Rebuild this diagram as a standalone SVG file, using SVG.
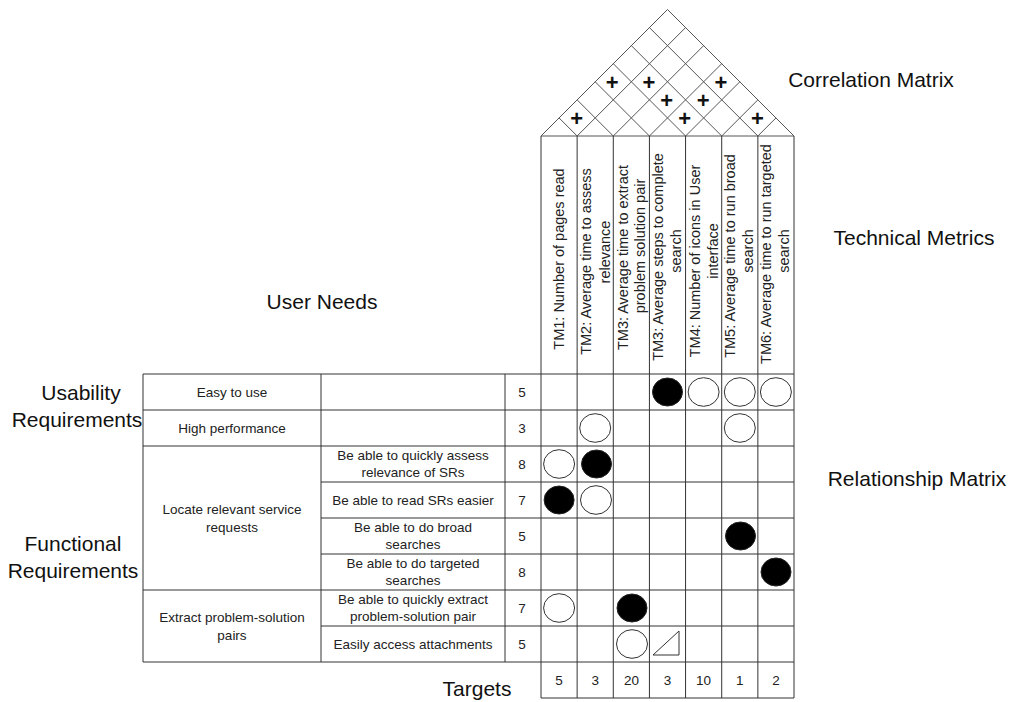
<svg xmlns="http://www.w3.org/2000/svg" width="1013" height="702" viewBox="0 0 1013 702">
<style>
  .ln { stroke: #333; stroke-width: 1; fill: none; }
  .rf { stroke: #555; stroke-width: 1; fill: none; }
  .big { font-family: "Liberation Sans", Arial, sans-serif; font-size: 21px; fill: #111; text-anchor: middle; }
  .cell { font-family: "Liberation Sans", Arial, sans-serif; font-size: 13.5px; fill: #222; text-anchor: middle; }
  .hd { font-family: "Liberation Sans", Arial, sans-serif; font-size: 14.5px; fill: #222; text-anchor: middle; }
  .plus { font-family: "Liberation Sans", Arial, sans-serif; font-size: 22px; font-weight: bold; fill: #111; text-anchor: middle; }
  .op { fill: #fff; stroke: #333; stroke-width: 1; }
  .fl { fill: #000; stroke: #222; stroke-width: 1; }
</style>
<rect width="1013" height="702" fill="#fff"/>

<g id="roof">
  <polyline class="rf" points="541,136 667.5,9.5 794,136"/>
  <line class="rf" x1="541" y1="136" x2="794" y2="136"/>
  <path class="rf" d="M577.14,136 L559.07,117.93 M577.14,136 L685.57,27.57
    M613.29,136 L577.14,99.86 M613.29,136 L703.64,45.64
    M649.43,136 L595.21,81.79 M649.43,136 L721.71,63.71
    M685.57,136 L613.29,63.71 M685.57,136 L739.79,81.79
    M721.71,136 L631.36,45.64 M721.71,136 L757.86,99.86
    M757.86,136 L649.43,27.57 M757.86,136 L775.93,117.93"/>
  <text class="plus" x="576.6" y="125.6">+</text>
  <text class="plus" x="612.3" y="89.5">+</text>
  <text class="plus" x="648.9" y="89.5">+</text>
  <text class="plus" x="666.8" y="107.6">+</text>
  <text class="plus" x="684.6" y="125.6">+</text>
  <text class="plus" x="703.1" y="107.6">+</text>
  <text class="plus" x="721" y="89.5">+</text>
  <text class="plus" x="757.4" y="125.6">+</text>
</g>

<g id="grid">
  <path class="ln" d="M143,374 H794 M143,410 H794 M143,446 H794 M321,482 H794 M321,518 H794 M321,554 H794 M143,590 H794 M321,626 H794 M143,662 H794 M541,698 H794
    M143,374 V662 M321,374 V662 M505,374 V662
    M541,136 V698 M577.14,136 V698 M613.29,136 V698 M649.43,136 V698 M685.57,136 V698 M721.71,136 V698 M757.86,136 V698 M794,136 V698"/>
</g>

<g id="technical-metrics">
  <text class="hd" transform="translate(564,259) rotate(-90)">TM1: Number of pages read</text>
  <text class="hd" transform="translate(590.5,261.5) rotate(-90)">TM2: Average time to assess</text>
  <text class="hd" transform="translate(609.5,252) rotate(-90)">relevance</text>
  <text class="hd" transform="translate(627.5,257.5) rotate(-90)">TM3: Average time to extract</text>
  <text class="hd" transform="translate(645,246) rotate(-90)">problem solution pair</text>
  <text class="hd" transform="translate(662.5,257) rotate(-90)">TM3: Average steps to complete</text>
  <text class="hd" transform="translate(680.5,251) rotate(-90)">search</text>
  <text class="hd" transform="translate(700,261) rotate(-90)">TM4: Number of icons in User</text>
  <text class="hd" transform="translate(718,251) rotate(-90)">interface</text>
  <text class="hd" transform="translate(735,256) rotate(-90)">TM5: Average time to run broad</text>
  <text class="hd" transform="translate(753,251) rotate(-90)">search</text>
  <text class="hd" transform="translate(771,254) rotate(-90)">TM6: Average time to run targeted</text>
  <text class="hd" transform="translate(789,251) rotate(-90)">search</text>
</g>

<g id="user-needs">
  <text class="cell" x="232" y="397">Easy to use</text>
  <text class="cell" x="232" y="433">High performance</text>
  <text class="cell" x="232" y="514">Locate relevant service</text>
  <text class="cell" x="232" y="532">requests</text>
  <text class="cell" x="232" y="622">Extract problem-solution</text>
  <text class="cell" x="232" y="640">pairs</text>
  <text class="cell" x="413" y="460">Be able to quickly assess</text>
  <text class="cell" x="413" y="477">relevance of SRs</text>
  <text class="cell" x="413" y="505">Be able to read SRs easier</text>
  <text class="cell" x="413" y="532">Be able to do broad</text>
  <text class="cell" x="413" y="549">searches</text>
  <text class="cell" x="413" y="568">Be able to do targeted</text>
  <text class="cell" x="413" y="585">searches</text>
  <text class="cell" x="413" y="604">Be able to quickly extract</text>
  <text class="cell" x="413" y="621">problem-solution pair</text>
  <text class="cell" x="413" y="649">Easily access attachments</text>
</g>

<g id="weights">
  <text class="cell" x="522" y="397">5</text>
  <text class="cell" x="522" y="433">3</text>
  <text class="cell" x="522" y="469">8</text>
  <text class="cell" x="522" y="505">7</text>
  <text class="cell" x="522" y="541">5</text>
  <text class="cell" x="522" y="577">8</text>
  <text class="cell" x="522" y="613">7</text>
  <text class="cell" x="522" y="649">5</text>
</g>

<g id="relationship-matrix">
  <ellipse class="fl" cx="667.5" cy="392" rx="15" ry="14"/>
  <ellipse class="op" cx="703.6" cy="392" rx="15.5" ry="14.3"/>
  <ellipse class="op" cx="739.8" cy="392" rx="15.5" ry="14.3"/>
  <ellipse class="op" cx="775.9" cy="392" rx="15.5" ry="14.3"/>
  <ellipse class="op" cx="595.2" cy="428" rx="15.5" ry="14.3"/>
  <ellipse class="op" cx="739.8" cy="428" rx="15.5" ry="14.3"/>
  <ellipse class="op" cx="559.1" cy="464" rx="15.5" ry="14.3"/>
  <ellipse class="fl" cx="596.5" cy="464" rx="15" ry="14"/>
  <ellipse class="fl" cx="559.1" cy="500" rx="15" ry="14"/>
  <ellipse class="op" cx="596" cy="500" rx="15.5" ry="14.3"/>
  <ellipse class="fl" cx="740.5" cy="536" rx="15" ry="14"/>
  <ellipse class="fl" cx="776" cy="572" rx="15" ry="14"/>
  <ellipse class="op" cx="559.1" cy="608" rx="15.5" ry="14.3"/>
  <ellipse class="fl" cx="632" cy="608" rx="15" ry="14"/>
  <ellipse class="op" cx="632" cy="644" rx="15.5" ry="14.3"/>
  <polygon class="op" points="653,655 679,655 679,631"/>
</g>

<g id="targets">
  <text class="cell" x="559.1" y="685">5</text>
  <text class="cell" x="595.2" y="685">3</text>
  <text class="cell" x="631.4" y="685">20</text>
  <text class="cell" x="667.5" y="685">3</text>
  <text class="cell" x="703.6" y="685">10</text>
  <text class="cell" x="739.8" y="685">1</text>
  <text class="cell" x="775.9" y="685">2</text>
</g>

<g id="labels">
  <text class="big" x="871" y="87">Correlation Matrix</text>
  <text class="big" x="914" y="245">Technical Metrics</text>
  <text class="big" x="322" y="309">User Needs</text>
  <text class="big" x="917" y="486">Relationship Matrix</text>
  <text class="big" x="81" y="400">Usability</text>
  <text class="big" x="77" y="427">Requirements</text>
  <text class="big" x="73" y="551">Functional</text>
  <text class="big" x="73" y="578">Requirements</text>
  <text class="big" x="477" y="696">Targets</text>
</g>
</svg>
